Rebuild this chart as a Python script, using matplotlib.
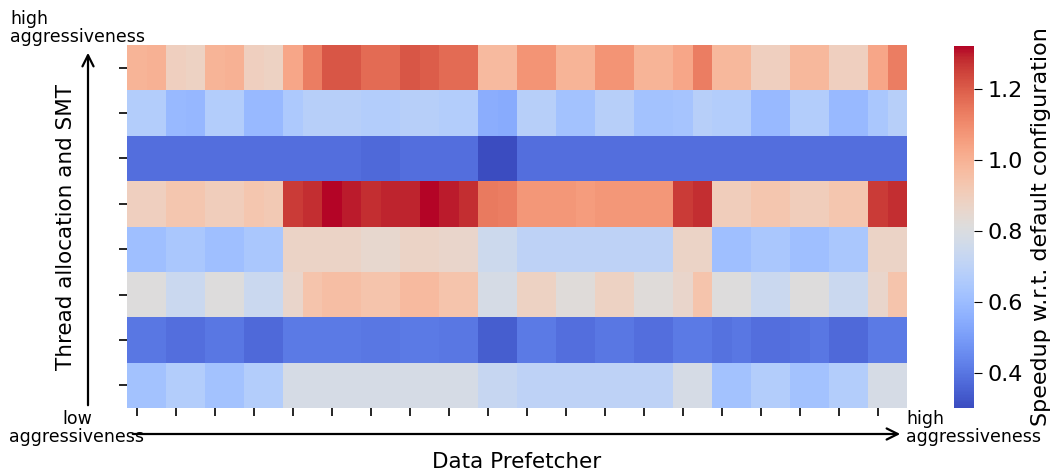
import matplotlib
matplotlib.use("Agg")
import matplotlib.pyplot as plt
import seaborn as sns
import numpy as np

# speedup per (thread allocation/SMT row, prefetcher column); row 0 = high aggressiveness
row0 = [0.99, 1.00, 0.89, 0.88, 0.99, 1.00, 0.89, 0.88, 1.03, 1.13,
        1.21, 1.21, 1.17, 1.17, 1.21, 1.20, 1.17, 1.17, 0.97, 0.97,
        1.08, 1.08, 0.99, 0.99, 1.08, 1.08, 0.99, 0.99, 1.03, 1.13,
        0.98, 0.98, 0.89, 0.89, 0.98, 0.98, 0.89, 0.89, 1.03, 1.13]
row1 = [0.67, 0.67, 0.59, 0.58, 0.67, 0.67, 0.59, 0.59, 0.65, 0.68,
        0.68, 0.68, 0.67, 0.67, 0.68, 0.68, 0.67, 0.67, 0.55, 0.54,
        0.68, 0.68, 0.62, 0.62, 0.68, 0.68, 0.62, 0.62, 0.63, 0.68,
        0.67, 0.67, 0.59, 0.59, 0.67, 0.67, 0.59, 0.59, 0.64, 0.68]
row2 = [0.38, 0.38, 0.38, 0.38, 0.38, 0.38, 0.38, 0.38, 0.38, 0.38,
        0.38, 0.38, 0.37, 0.37, 0.38, 0.38, 0.38, 0.38, 0.30, 0.30,
        0.38, 0.38, 0.38, 0.38, 0.38, 0.38, 0.38, 0.38, 0.38, 0.38,
        0.38, 0.38, 0.38, 0.38, 0.38, 0.38, 0.38, 0.38, 0.38, 0.38]
row3 = [0.89, 0.89, 0.93, 0.93, 0.90, 0.90, 0.93, 0.92, 1.26, 1.28,
        1.32, 1.30, 1.28, 1.29, 1.29, 1.32, 1.30, 1.28, 1.14, 1.13,
        1.07, 1.07, 1.07, 1.06, 1.07, 1.07, 1.07, 1.07, 1.26, 1.28,
        0.90, 0.90, 0.93, 0.93, 0.90, 0.90, 0.93, 0.93, 1.26, 1.28]
row4 = [0.61, 0.61, 0.64, 0.64, 0.61, 0.61, 0.64, 0.64, 0.87, 0.87,
        0.87, 0.87, 0.85, 0.85, 0.87, 0.87, 0.86, 0.86, 0.75, 0.75,
        0.70, 0.70, 0.70, 0.70, 0.70, 0.70, 0.70, 0.70, 0.87, 0.87,
        0.61, 0.61, 0.64, 0.64, 0.61, 0.61, 0.64, 0.64, 0.87, 0.87]
row5 = [0.81, 0.81, 0.74, 0.74, 0.81, 0.81, 0.74, 0.74, 0.86, 0.94,
        0.96, 0.96, 0.94, 0.94, 0.97, 0.97, 0.94, 0.94, 0.78, 0.78,
        0.88, 0.88, 0.82, 0.82, 0.88, 0.88, 0.82, 0.82, 0.86, 0.94,
        0.81, 0.81, 0.74, 0.74, 0.81, 0.81, 0.74, 0.74, 0.86, 0.94]
row6 = [0.40, 0.40, 0.38, 0.38, 0.40, 0.40, 0.37, 0.37, 0.41, 0.41,
        0.41, 0.41, 0.40, 0.40, 0.41, 0.41, 0.40, 0.40, 0.34, 0.34,
        0.41, 0.41, 0.38, 0.38, 0.40, 0.40, 0.38, 0.38, 0.41, 0.41,
        0.39, 0.40, 0.38, 0.38, 0.39, 0.40, 0.37, 0.37, 0.41, 0.41]
row7 = [0.62, 0.62, 0.67, 0.67, 0.62, 0.62, 0.67, 0.67, 0.78, 0.78,
        0.78, 0.78, 0.78, 0.78, 0.78, 0.78, 0.78, 0.78, 0.73, 0.73,
        0.70, 0.70, 0.70, 0.70, 0.70, 0.70, 0.70, 0.70, 0.78, 0.78,
        0.62, 0.62, 0.67, 0.67, 0.62, 0.62, 0.67, 0.67, 0.78, 0.78]

data = np.array([row0, row1, row2, row3, row4, row5, row6, row7])

fig = plt.figure(figsize=(10.54, 4.74), dpi=100)
ax = fig.add_axes([127/1054, 1-408/474, 780/1054, 363/474])
cax = fig.add_axes([954/1054, 1-408/474, 20/1054, 362/474])

sns.heatmap(data, cmap="coolwarm", ax=ax, cbar_ax=cax,
            xticklabels=False, yticklabels=False)
cax.tick_params(labelsize=16, length=6)
cax.set_ylabel("Speedup w.r.t. default configuration", fontsize=16, labelpad=6)
for s in cax.spines.values():
    s.set_visible(False)

# bare tick marks, no labels
ax.set_xticks(np.arange(0, data.shape[1], 2) + 0.5)
ax.set_xticklabels([])
ax.set_yticks(np.arange(data.shape[0]) + 0.5)
ax.set_yticklabels([])
ax.tick_params(axis="both", length=6, width=1.2)

ax.set_xlabel("Data Prefetcher", fontsize=15.5, labelpad=22)
ax.set_ylabel("Thread allocation and SMT", fontsize=15.5, labelpad=27)

# aggressiveness arrows
ax.annotate("", xy=(88/1054, 1-50/474), xytext=(88/1054, 1-408/474),
            xycoords="figure fraction",
            arrowprops=dict(arrowstyle="->", lw=1.6, color="black", mutation_scale=20))
ax.annotate("", xy=(903/1054, 1-434/474), xytext=(130/1054, 1-434/474),
            xycoords="figure fraction",
            arrowprops=dict(arrowstyle="->", lw=1.6, color="black", mutation_scale=20))

fig.text(77/1054, 1-428/474, "low\naggressiveness", ha="center", va="center",
         fontsize=12.5, linespacing=1.0)
fig.text(10/1054, 1-28/474, "high\naggressiveness", ha="left", va="center",
         fontsize=12.5, linespacing=1.0)
fig.text(906/1054, 1-428/474, "high\naggressiveness", ha="left", va="center",
         fontsize=12.5, linespacing=1.0)

fig.savefig("out.png", dpi=100)
